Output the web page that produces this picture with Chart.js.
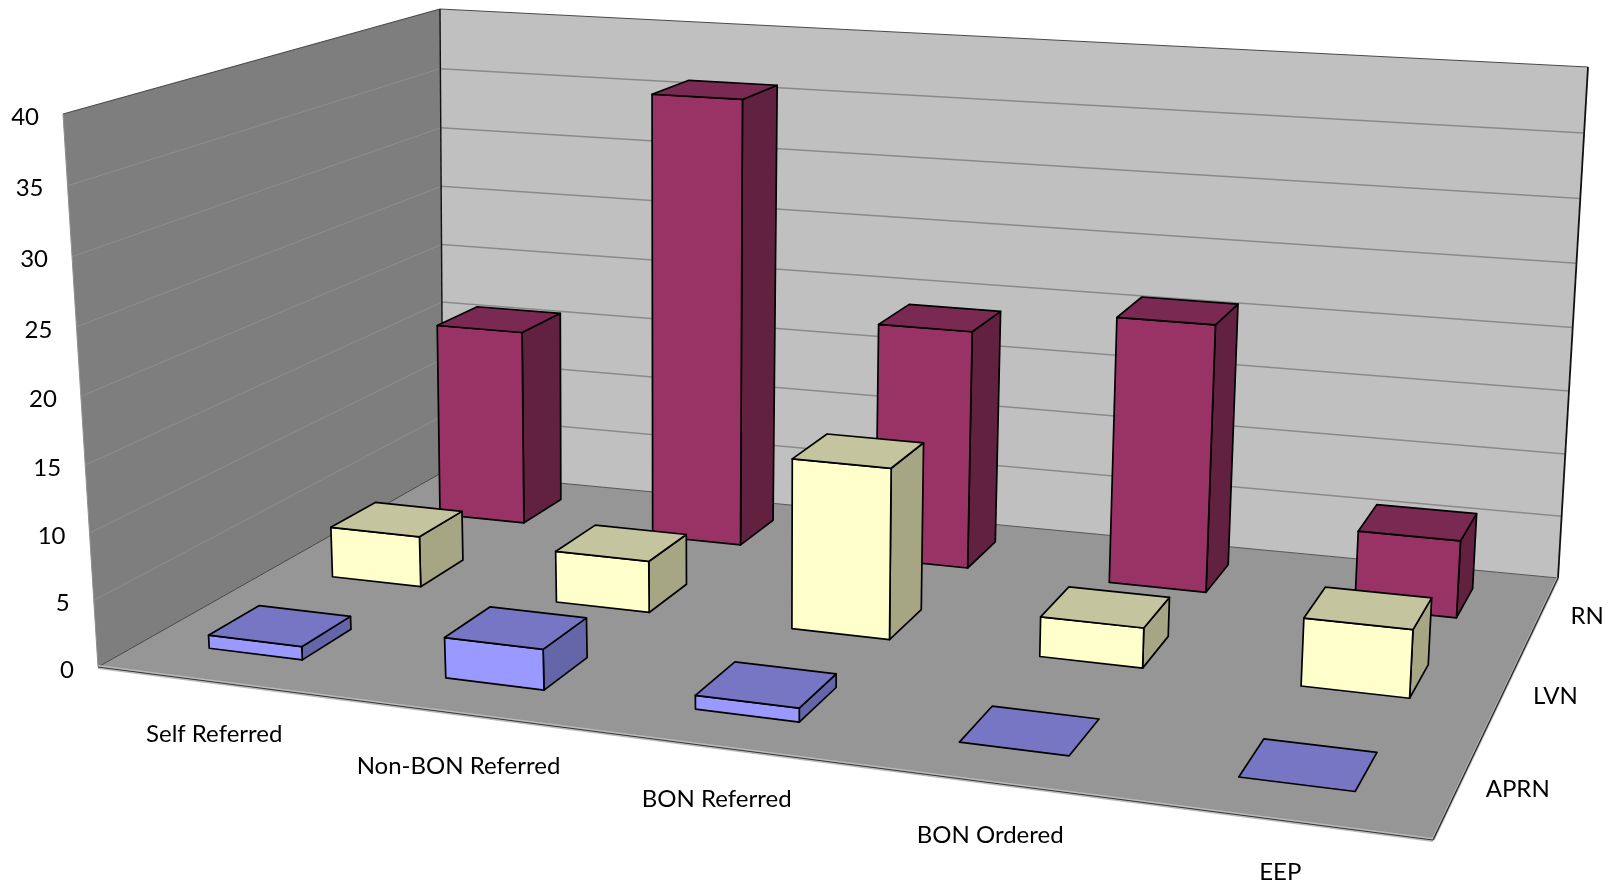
<!DOCTYPE html>
<html>
<head>
<meta charset="utf-8">
<title>Referrals by licence type</title>
<script src="https://cdn.jsdelivr.net/npm/chart.js@4"></script>
<style>
  html, body { margin: 0; padding: 0; background: #ffffff; }
  canvas { display: block; }
</style>
</head>
<body>
<canvas id="chart" width="1610" height="880"></canvas>
<script>
// Chart values
const categories = ['Self Referred', 'Non-BON Referred', 'BON Referred', 'BON Ordered', 'EEP'];
const seriesNames = ['APRN', 'LVN', 'RN'];
const aprnValues = [1, 3, 1, 0, 0];
const lvnValues = [4, 4, 13, 3, 5];
const rnValues = [16, 36, 19, 21, 6];

// Face colours per series
const frontColors = ['#9999ff', '#ffffcc', '#993366'];
const topColors = ['#7676c4', '#c4c49e', '#7a2a52'];
const sideColors = ['#6565aa', '#a6a684', '#622140'];

// Box corners of the plot as seen by the camera: [across, depth, height, screenX, screenY]
const boxCorners = [
  [0, 0, 0, 98, 667], [1, 0, 0, 1433, 840], [1, 1, 0, 1558, 578], [0, 1, 0, 443, 472],
  [0, 0, 1, 63, 114], [1, 1, 1, 1588, 67], [0, 1, 1, 440, 9]
];
const barWidth = 0.4;     // share of a category slot
const barDepth = 0.4;     // share of a series slot
const barSetBack = 0.015; // bars stand slightly behind their slot centre
const barSkew = 0.005;    // nearer rows sit slightly further left

// Least-squares fit of a 3x4 projective camera to the box corners
function fitCamera(points) {
  const n = 11, A = Array.from({ length: n }, () => new Array(n + 1).fill(0));
  const addRow = (r, b) => {
    for (let i = 0; i < n; i++) {
      for (let j = 0; j < n; j++) A[i][j] += r[i] * r[j];
      A[i][n] += r[i] * b;
    }
  };
  for (const [x, y, z, sx, sy] of points) {
    addRow([x, y, z, 1, 0, 0, 0, 0, -sx * x, -sx * y, -sx * z], sx);
    addRow([0, 0, 0, 0, x, y, z, 1, -sy * x, -sy * y, -sy * z], sy);
  }
  for (let c = 0; c < n; c++) {
    let p = c;
    for (let r = c + 1; r < n; r++) if (Math.abs(A[r][c]) > Math.abs(A[p][c])) p = r;
    [A[c], A[p]] = [A[p], A[c]];
    for (let r = 0; r < n; r++) {
      if (r === c) continue;
      const f = A[r][c] / A[c][c];
      for (let k = c; k <= n; k++) A[r][k] -= f * A[c][k];
    }
  }
  return A.map((row, i) => row[n] / row[i]);
}
const cam = fitCamera(boxCorners);
function cameraPoint(u, v, w) {
  const d = cam[8] * u + cam[9] * v + cam[10] * w + 1;
  return [
    (cam[0] * u + cam[1] * v + cam[2] * w + cam[3]) / d,
    (cam[4] * u + cam[5] * v + cam[6] * w + cam[7]) / d
  ];
}
// What the fit leaves over at each corner is spread back trilinearly
const residuals = boxCorners.map(([x, y, z, sx, sy]) => {
  const p = cameraPoint(x, y, z);
  return [x, y, z, sx - p[0], sy - p[1]];
});
function project(u, v, w) {
  const p = cameraPoint(u, v, w);
  for (const [x, y, z, dx, dy] of residuals) {
    const k = (x ? u : 1 - u) * (y ? v : 1 - v) * (z ? w : 1 - w);
    p[0] += k * dx;
    p[1] += k * dy;
  }
  return p;
}

function polygon(ctx, pts, fill, stroke, lineWidth) {
  ctx.beginPath();
  pts.forEach((p, i) => (i ? ctx.lineTo(p[0], p[1]) : ctx.moveTo(p[0], p[1])));
  ctx.closePath();
  if (fill) { ctx.fillStyle = fill; ctx.fill(); }
  if (stroke) { ctx.strokeStyle = stroke; ctx.lineWidth = lineWidth; ctx.lineJoin = 'round'; ctx.stroke(); }
}
function segment(ctx, a, b, color, lineWidth) {
  ctx.beginPath();
  ctx.moveTo(a[0], a[1]);
  ctx.lineTo(b[0], b[1]);
  ctx.strokeStyle = color;
  ctx.lineWidth = lineWidth;
  ctx.stroke();
}

// Fractions along each axis, taken from the chart's own scales
const fracX = (c, i) => (c.scales.x.getPixelForValue(i) - c.scales.x.left) / c.scales.x.width;
const fracZ = (c, j) => (c.scales.depth.getPixelForValue(j) - c.scales.depth.left) / c.scales.depth.width;
const fracY = (c, val) => (c.scales.y.bottom - c.scales.y.getPixelForValue(val)) / c.scales.y.height;

const perspectiveBox = {
  id: 'perspectiveBox',
  beforeDatasetsDraw(chart) {
    const ctx = chart.ctx;
    const P = project;
    ctx.save();
    // Walls and floor
    polygon(ctx, [P(0, 0, 0), P(0, 1, 0), P(0, 1, 1), P(0, 0, 1)], '#7e7e7e');
    polygon(ctx, [P(0, 1, 0), P(1, 1, 0), P(1, 1, 1), P(0, 1, 1)], '#c0c0c0');
    polygon(ctx, [P(0, 0, 0), P(1, 0, 0), P(1, 1, 0), P(0, 1, 0)], '#969696');

    // Gridlines on both walls
    chart.scales.y.ticks.forEach(t => {
      const w = fracY(chart, t.value);
      if (t.value === 0 || t.value === 40) return;
      segment(ctx, P(0, 0, w), P(0, 1, w), '#8e8e8e', 1);
      segment(ctx, P(0, 1, w), P(1, 1, w), '#8a8a8a', 1.5);
    });

    // Box outline
    segment(ctx, P(0, 0, 1), P(0, 1, 1), '#4a4a4a', 1.2);
    segment(ctx, P(0, 1, 1), P(1, 1, 1), '#4a4a4a', 1.2);
    segment(ctx, P(0, 0, 0), P(0, 0, 1), '#8f8f8f', 1);
    segment(ctx, P(0, 1, 0), P(0, 1, 1), '#111111', 1.4);
    segment(ctx, P(1, 1, 0), P(1, 1, 1), '#111111', 1.8);
    segment(ctx, P(0, 0, 0), P(0, 1, 0), '#444444', 1);
    segment(ctx, P(0, 1, 0), P(1, 1, 0), '#555555', 1);
    segment(ctx, P(1, 0, 0), P(1, 1, 0), '#b5b5b5', 3);
    segment(ctx, P(1, 0, 0), P(1, 1, 0), '#222222', 1.2);
    segment(ctx, P(0, 0, 0), P(1, 0, 0), '#bbbbbb', 4);
    segment(ctx, P(0, 0, 0), P(1, 0, 0), '#333333', 1.2);

    // Axis labels
    ctx.fillStyle = '#000000';
    ctx.font = '24px Lato, sans-serif';
    ctx.textBaseline = 'middle';
    ctx.textAlign = 'right';
    chart.scales.y.ticks.forEach(t => {
      const p = P(0, 0, fracY(chart, t.value));
      ctx.fillText(t.label, p[0] - 24, p[1] + 3);
    });
    ctx.textAlign = 'center';
    chart.scales.x.getLabels().forEach((label, i) => {
      const p = P(fracX(chart, i), 0, 0);
      ctx.fillText(label, p[0] - 1, p[1] + 52);
    });
    chart.scales.depth.getLabels().forEach((label, j) => {
      const v = fracZ(chart, j);
      const p = P(1, v, 0);
      ctx.fillText(label, p[0] + 63 - 20 * v, p[1] + 2);
    });
    ctx.restore();
  },
  // Replaces the flat bar drawing with projected cuboids, back row first
  beforeDatasetDraw(chart, args) {
    const ctx = chart.ctx;
    const j = args.index;
    const ds = chart.data.datasets[j];
    const P = project;
    const halfU = barWidth / categories.length / 2;
    const halfV = barDepth / seriesNames.length / 2;
    const rowCentre = fracZ(chart, j);
    const v0 = rowCentre - halfV + barSetBack, v1 = rowCentre + halfV + barSetBack;
    const shift = barSkew * (1 - rowCentre);
    ctx.save();
    ds.data.forEach((val, i) => {
      const c = fracX(chart, i) - shift;
      const u0 = c - halfU, u1 = c + halfU;
      const w = fracY(chart, val);
      if (val > 0) {
        polygon(ctx, [P(u1, v0, 0), P(u1, v1, 0), P(u1, v1, w), P(u1, v0, w)], ds.sideColor, '#000000', 1.7);
        polygon(ctx, [P(u0, v0, 0), P(u1, v0, 0), P(u1, v0, w), P(u0, v0, w)], ds.backgroundColor, '#000000', 1.7);
      }
      polygon(ctx, [P(u0, v0, w), P(u1, v0, w), P(u1, v1, w), P(u0, v1, w)], ds.topColor, '#000000', 1.7);
    });
    ctx.restore();
    return false;
  }
};

new Chart(document.getElementById('chart'), {
  type: 'bar',
  data: {
    labels: categories,
    datasets: [
      { label: seriesNames[0], data: aprnValues, backgroundColor: frontColors[0], topColor: topColors[0], sideColor: sideColors[0] },
      { label: seriesNames[1], data: lvnValues, backgroundColor: frontColors[1], topColor: topColors[1], sideColor: sideColors[1] },
      { label: seriesNames[2], data: rnValues, backgroundColor: frontColors[2], topColor: topColors[2], sideColor: sideColors[2] }
    ]
  },
  options: {
    responsive: false,
    animation: false,
    devicePixelRatio: 1,
    layout: { padding: 0 },
    plugins: { legend: { display: false }, tooltip: { enabled: false }, title: { display: false } },
    scales: {
      x: { type: 'category', display: false, offset: true },
      depth: { type: 'category', axis: 'x', position: 'bottom', display: false, offset: true, labels: seriesNames },
      y: { type: 'linear', display: false, min: 0, max: 40, ticks: { stepSize: 5 } }
    }
  },
  plugins: [perspectiveBox]
});
</script>
</body>
</html>
